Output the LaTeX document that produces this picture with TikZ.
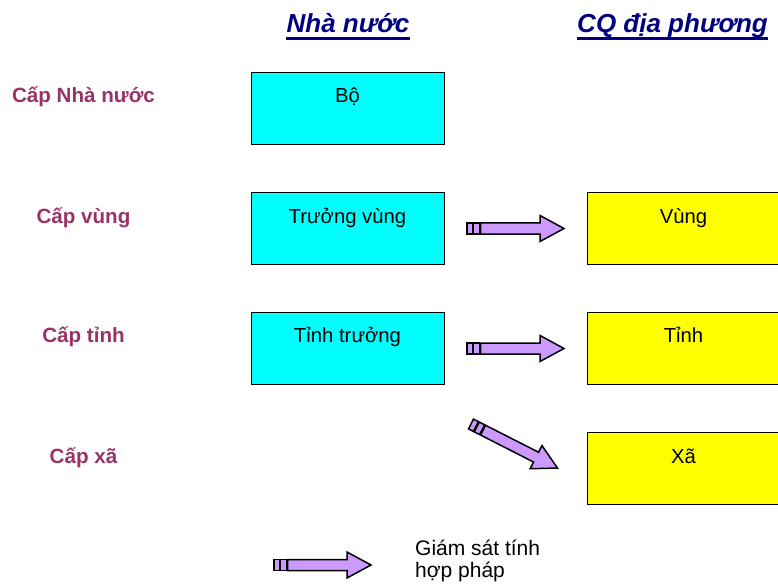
\documentclass[tikz,border=0pt]{standalone}
\usepackage{fontspec}
\setmainfont{Liberation Sans}
\definecolor{boxcyan}{HTML}{00FFFF}
\definecolor{boxyellow}{HTML}{FFFF00}
\definecolor{maroon}{HTML}{993366}
\definecolor{headnavy}{HTML}{000080}
\definecolor{arrowfill}{HTML}{CC99FF}
\tikzset{
  box/.style={draw=black, line width=1.4pt, minimum width=193pt, minimum height=72pt, anchor=north west, inner sep=0pt},
  cyanbox/.style={box, fill=boxcyan},
  yellowbox/.style={box, fill=boxyellow},
  boxtext/.style={anchor=base, inner sep=0pt, font=\fontsize{20.3}{24}\selectfont},
  level/.style={anchor=base, inner sep=0pt, text=maroon, font=\fontsize{20.6}{24}\selectfont\bfseries},
  header/.style={anchor=base, inner sep=0pt, text=headnavy, font=\fontsize{26}{30}\selectfont\bfseries\itshape},
  uline/.style={draw=headnavy, line width=2.2pt},
  arrowline/.style={draw=black, line width=1.5pt, fill=arrowfill, line join=miter},
  barrow/.pic={
    \path[arrowline] (0,-5.5) rectangle (5.5,5.5);
    \path[arrowline] (6.5,-5.5) rectangle (12.5,5.5);
    \path[arrowline] (13.5,-5.5) -- (73,-5.5) -- (73,-13) -- (97,0) -- (73,13) -- (73,5.5) -- (13.5,5.5) -- cycle;
  }
}
\begin{document}
\begin{tikzpicture}[x=1pt,y=-1pt]
\useasboundingbox (0,0) rectangle (778,585);

% headers
\node[header] (hnn) at (348,33) {Nhà nước};
\draw[uline] ([yshift=-5.5pt]hnn.base west) -- ([yshift=-5.5pt]hnn.base east);
\node[header] (hcq) at (672.5,33) {CQ địa phương};
\draw[uline] ([yshift=-5.5pt]hcq.base west) -- ([yshift=-5.5pt]hcq.base east);

% level labels
\node[level] (l1) at (83.5,103) {Cấp Nhà nước};
\node[level] (l2) at (83.5,223) {Cấp vùng};
\node[level] (l3) at (83.5,342) {Cấp tỉnh};
\node[level] (l4) at (83.5,463) {Cấp xã};

% state boxes
\node[cyanbox] (bo) at (251,72) {};
\node[boxtext] (tbo) at (347.5,103) {Bộ};
\node[cyanbox] (tv) at (251,192) {};
\node[boxtext] (ttv) at (347.5,223) {Trưởng vùng};
\node[cyanbox] (tt) at (251,312) {};
\node[boxtext] (ttt) at (347.5,342) {Tỉnh trưởng};

% local boxes
\node[yellowbox] (vung) at (587,192) {};
\node[boxtext] (tvung) at (683.5,223) {Vùng};
\node[yellowbox] (tinh) at (587,312) {};
\node[boxtext] (ttinh) at (683.5,342) {Tỉnh};
\node[yellowbox] (xa) at (587,432) {};
\node[boxtext] (txa) at (683.5,463) {Xã};

% arrows
\pic at (467,228.5) {barrow};
\pic at (467,348.5) {barrow};
\pic[rotate=-27] at (471,424) {barrow};

% legend
\pic at (274,565) {barrow};
\node[anchor=base west, inner sep=0pt, font=\fontsize{21}{24}\selectfont] (leg1) at (415,555) {Giám sát tính};
\node[anchor=base west, inner sep=0pt, font=\fontsize{21}{24}\selectfont] (leg2) at (415,577) {hợp pháp};
\end{tikzpicture}
\end{document}
